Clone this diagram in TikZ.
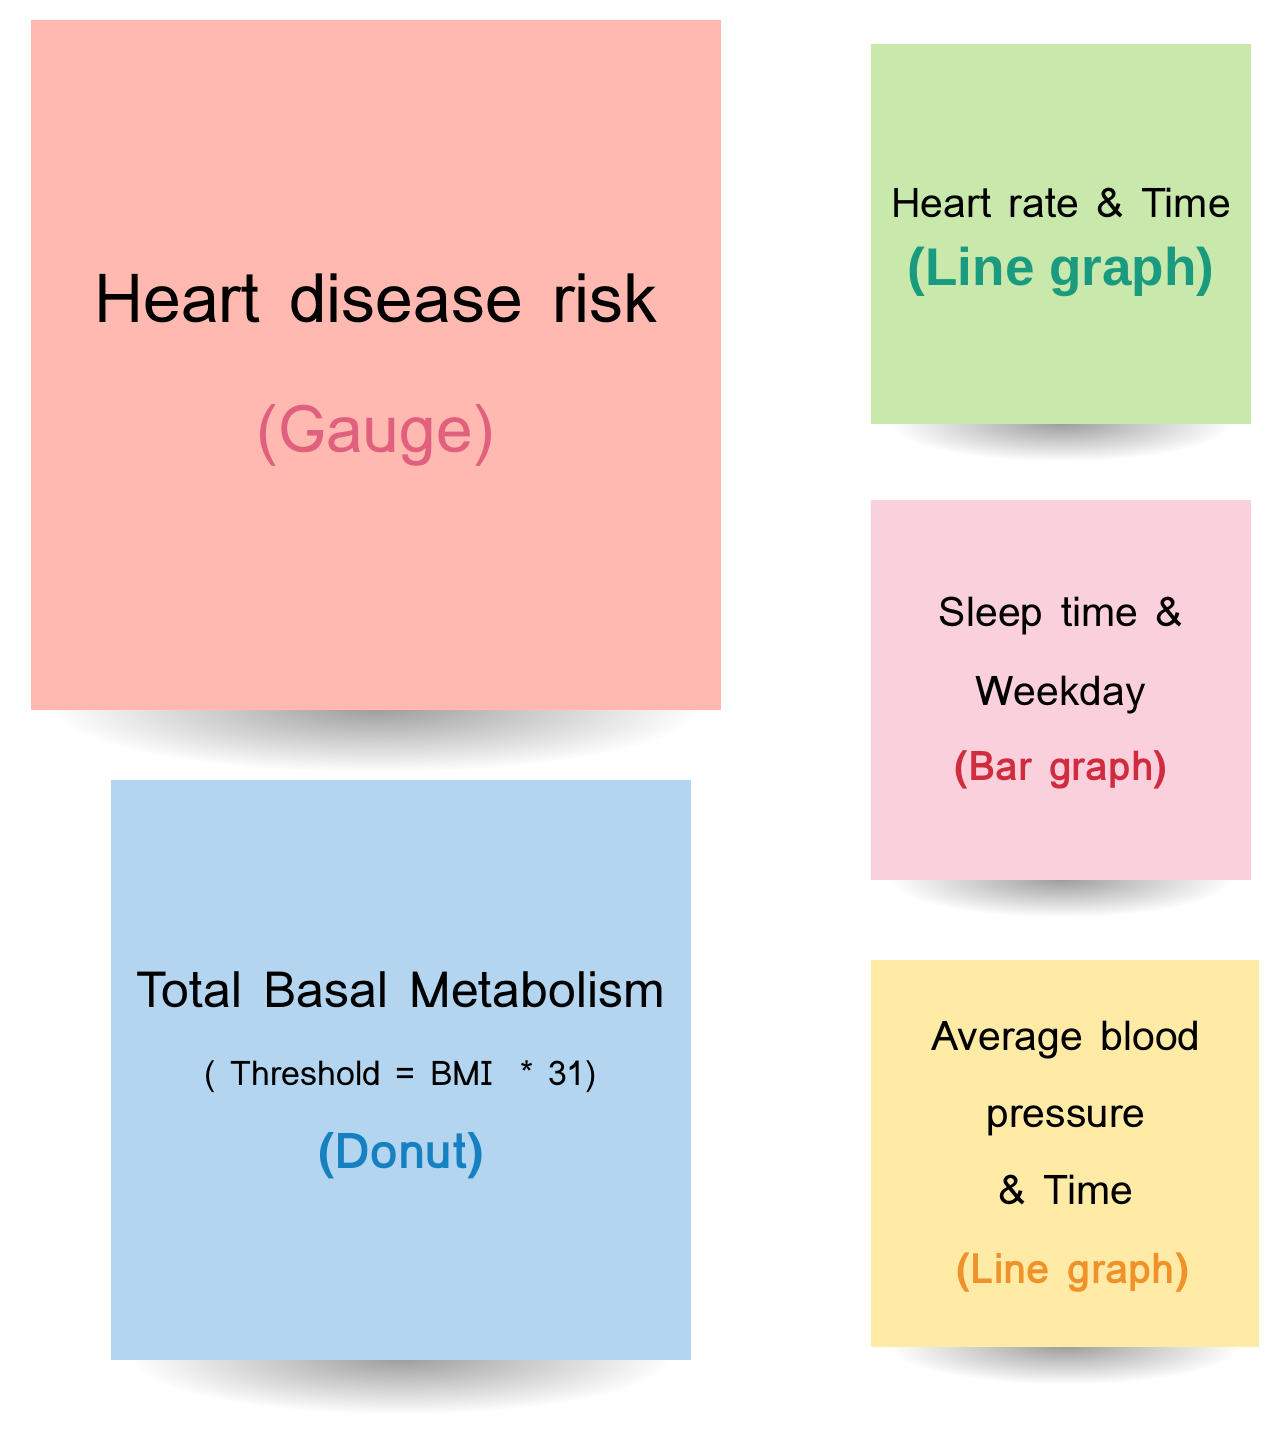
\documentclass[tikz,border=0pt]{standalone}
\usepackage{fontspec}
\setmainfont{Loma}[WordSpace=1.25]
\newfontfamily\arialfont{Liberation Sans}
\usetikzlibrary{fadings}
\definecolor{noteRed}{HTML}{FFB9B1}
\definecolor{noteGreen}{HTML}{C8E8AC}
\definecolor{notePink}{HTML}{F9D0DC}
\definecolor{noteYellow}{HTML}{FFEAA6}
\definecolor{noteBlue}{HTML}{B3D5EF}
\definecolor{textRose}{HTML}{E0607E}
\definecolor{textTeal}{HTML}{1A9A7E}
\definecolor{textCrimson}{HTML}{D12B3F}
\definecolor{textOrange}{HTML}{F0922A}
\definecolor{textBlue}{HTML}{1680C0}
\tikzfading[name=shadowfade, inner color=transparent!15, outer color=transparent!100]
\begin{document}
\begin{tikzpicture}[
    x=1pt,y=-1pt,
    note/.style={rectangle,inner sep=0pt,draw=none},
    shadow/.style={fill=black!45,path fading=shadowfade},
    big/.style={anchor=base,font=\fontsize{68}{80}\selectfont},
    mid/.style={anchor=base,font=\fontsize{41}{48}\selectfont},
    small/.style={anchor=base,font=\fontsize{34}{40}\selectfont}
  ]
  \useasboundingbox[fill=white] (0,0) rectangle (1283,1429);
  %% shadows under the notes
  \fill[shadow] (376,708) ellipse (322 and 64);
  \fill[shadow] (1061,423) ellipse (170 and 38);
  \fill[shadow] (1061,879) ellipse (170 and 38);
  \fill[shadow] (1065,1346) ellipse (174 and 38);
  \fill[shadow] (401,1358) ellipse (268 and 56);
  %% notes
  \node[note,fill=noteRed,minimum width=690pt,minimum height=690pt] (risk) at (376,365) {};
  \node[note,fill=noteGreen,minimum width=380pt,minimum height=380pt] (rate) at (1061,234) {};
  \node[note,fill=notePink,minimum width=380pt,minimum height=380pt] (sleep) at (1061,690) {};
  \node[note,fill=noteYellow,minimum width=388pt,minimum height=387pt] (blood) at (1065,1153.5) {};
  \node[note,fill=noteBlue,minimum width=580pt,minimum height=580pt] (basal) at (401,1070) {};
  %% texts
  \node[big] (riskA) at (376,322) {Heart disease risk};
  \node[big,font=\fontsize{66}{78}\selectfont,text=textRose] (riskB) at (376,452) {(Gauge)};
  \node[mid] (rateA) at (1061,217) {Heart rate \& Time};
  \node[mid,font=\arialfont\bfseries\fontsize{53}{60}\selectfont,text=textTeal] (rateB) at (1061,285) {(Line graph)};
  \node[mid] (sleepA) at (1061,626) {Sleep time \&};
  \node[mid] (sleepB) at (1061,705) {Weekday};
  \node[mid,text=textCrimson,font=\bfseries\fontsize{41}{48}\selectfont] (sleepC) at (1061,780) {(Bar graph)};
  \node[big,font=\fontsize{50}{60}\selectfont] (basalA) at (401,1007) {Total Basal Metabolism};
  \node[small] (basalB) at (401,1085) {( Threshold = BMI~ * 31)};
  \node[mid,text=textBlue,font=\bfseries\fontsize{49.5}{56}\selectfont] (basalC) at (401,1168) {(Donut)};
  \node[mid] (bloodA) at (1066,1050) {Average blood};
  \node[mid] (bloodB) at (1066,1127) {pressure};
  \node[mid] (bloodC) at (1066,1204) {\& Time};
  \node[mid,text=textOrange,font=\bfseries\fontsize{42}{48}\selectfont] (bloodD) at (1073,1283) {(Line graph)};
\end{tikzpicture}
\end{document}
